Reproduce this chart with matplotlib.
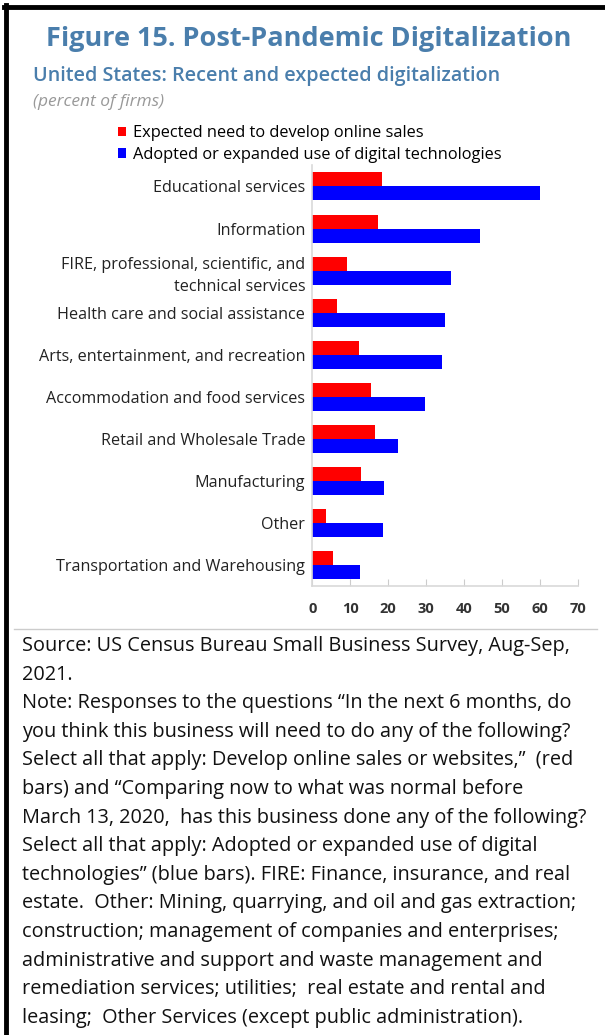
import matplotlib
matplotlib.use("Agg")
import matplotlib.pyplot as plt
from matplotlib.lines import Line2D
import numpy as np

categories = [
    "Educational services",
    "Information",
    "FIRE, professional, scientific, and\ntechnical services",
    "Health care and social assistance",
    "Arts, entertainment, and recreation",
    "Accommodation and food services",
    "Retail and Wholesale Trade",
    "Manufacturing",
    "Other",
    "Transportation and Warehousing",
]
expected_online = [18.3, 17.3, 9.1, 6.5, 12.3, 15.5, 16.6, 12.9, 3.7, 5.4]
adopted_digital = [60.1, 44.1, 36.5, 35.1, 34.2, 29.6, 22.7, 18.9, 18.7, 12.6]
series_labels = ["Expected need to develop online sales",
                 "Adopted or expanded use of digital technologies"]
xticks = [0, 10, 20, 30, 40, 50, 60, 70]

title = "Figure 15. Post-Pandemic Digitalization"
subtitle = "United States: Recent and expected digitalization"
unit = "(percent of firms)"
note_lines = [
    "Source: US Census Bureau Small Business Survey, Aug-Sep,",
    "2021.",
    "Note: Responses to the questions \u201cIn the next 6 months, do",
    "you think this business will need to do any of the following?",
    "Select all that apply: Develop online sales or websites,\u201d  (red",
    "bars) and \u201cComparing now to what was normal before",
    "March 13, 2020,  has this business done any of the following?",
    "Select all that apply: Adopted or expanded use of digital",
    "technologies\u201d (blue bars). FIRE: Finance, insurance, and real",
    "estate.  Other: Mining, quarrying, and oil and gas extraction;",
    "construction; management of companies and enterprises;",
    "administrative and support and waste management and",
    "remediation services; utilities;  real estate and rental and",
    "leasing;  Other Services (except public administration).",
]

plt.rcParams['font.family'] = ['Open Sans', 'DejaVu Sans']

W, H = 605, 1035
fig = plt.figure(figsize=(W / 100, H / 100), dpi=100)
fig.patch.set_facecolor("white")

def fx(px):
    return px / W

def fy(py):
    return 1 - py / H

blue_title = "#4a7eac"

# axes
ax = fig.add_axes([fx(312.3), fy(585.7), fx(577.7) - fx(312.3), fy(165) - fy(585.7)])
y = np.arange(len(categories))
h = 0.333
b1 = ax.barh(y - h / 2, expected_online, height=h, color="#ff0000", label=series_labels[0])
b2 = ax.barh(y + h / 2, adopted_digital, height=h, color="#0000ff", label=series_labels[1])
ax.set_ylim(9.49, -0.51)
ax.set_xlim(0, 70)
ax.set_yticks(y)
ax.set_yticklabels(categories, fontsize=11.6, color="#222222", ha="right")
for lbl in ax.get_yticklabels():
    lbl.set_linespacing(1.5)
ax.tick_params(axis="y", length=0, pad=5)
ax.set_xticks(xticks)
ax.set_xticklabels([str(t) for t in xticks], fontsize=10.5, color="#333333", fontweight="bold")
ax.tick_params(axis="x", direction="in", length=5, color="#cccccc", pad=12)
for s in ["top", "right"]:
    ax.spines[s].set_visible(False)
for s in ["left", "bottom"]:
    ax.spines[s].set_color("#d9d9d9")
    ax.spines[s].set_linewidth(1.2)

fig.legend(handles=[b1, b2], labels=series_labels, loc="upper left",
           bbox_to_anchor=(fx(118), fy(125)), frameon=False, fontsize=11.8,
           handlelength=0.5, handleheight=0.5, handletextpad=0.43,
           labelspacing=0.35, borderaxespad=0, borderpad=0)

# titles
fig.text(fx(309), fy(39), title, ha="center", va="center", fontsize=19.5,
         fontweight="bold", color=blue_title)
fig.text(fx(33), fy(76), subtitle, ha="left", va="center", fontsize=14.2,
         fontweight="semibold", color=blue_title)
fig.text(fx(33), fy(102), unit, ha="left", va="center", fontsize=12.5,
         style="italic", color="#999999")

# separator line
fig.add_artist(Line2D([fx(14), fx(597)], [fy(629), fy(629)], color="#cccccc", lw=1))

# notes
for i, line in enumerate(note_lines):
    fig.text(fx(22), fy(646 + i * 28.6), line, ha="left", va="center",
             fontsize=14.3, color="#111111")

# frame border (left and top)
fig.add_artist(Line2D([fx(5.5), fx(5.5)], [fy(5), fy(1035)], color="black", lw=3.5))
fig.add_artist(Line2D([fx(4), fx(605)], [fy(6.5), fy(6.5)], color="black", lw=3.5))

fig.savefig("out.png", dpi=100)
